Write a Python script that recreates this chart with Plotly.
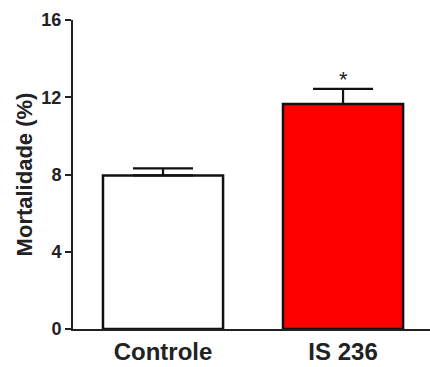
import plotly.graph_objects as go

categories = ["Controle", "IS 236"]
values = [7.95, 11.65]
errors_up = [0.37, 0.78]
bar_colors = ["#ffffff", "#ff0000"]
y_ticks = [0, 4, 8, 12, 16]
significance = ["", "*"]

fig = go.Figure()
fig.add_trace(go.Bar(
    x=categories,
    y=values,
    width=0.667,
    marker=dict(color=bar_colors, line=dict(color="#111111", width=2.5)),
    error_y=dict(type="data", array=errors_up, arrayminus=[0] * len(values),
                 symmetric=False, color="#111111", thickness=2.2, width=30),
    showlegend=False,
))

for cat, v, e, s in zip(categories, values, errors_up, significance):
    if s:
        fig.add_annotation(x=cat, y=v + e + 0.5, text=s, showarrow=False,
                           yanchor="middle",
                           font=dict(family="Liberation Sans, Arial", size=22, color="#222222"))

fig.update_layout(
    width=430, height=367,
    margin=dict(l=73, r=0, t=20, b=38),
    paper_bgcolor="white", plot_bgcolor="white",
    font=dict(family="Liberation Sans, Arial", color="#222222"),
)
fig.update_xaxes(
    range=[-0.5, 1.483],
    automargin=False,
    showline=True, linecolor="#222222", linewidth=2,
    ticks="", showgrid=False, zeroline=False,
    tickfont=dict(size=24, family="Liberation Sans, Arial", color="#222222"),
    ticklabelstandoff=0,
    tickprefix="<b>", ticksuffix="</b>",
)
fig.update_yaxes(
    range=[0, 16],
    automargin=False,
    tickvals=y_ticks,
    ticktext=[f"<b>{t}</b>" for t in y_ticks],
    showline=True, linecolor="#222222", linewidth=2,
    ticks="outside", ticklen=6, tickwidth=2, tickcolor="#222222",
    showgrid=False, zeroline=False,
    tickfont=dict(size=18, family="Liberation Sans, Arial", color="#222222"),
    title=dict(text="<b>Mortalidade (%)</b>", standoff=3,
               font=dict(size=22, family="Liberation Sans, Arial", color="#222222")),
)

fig.write_html("out.html",
               config={"displayModeBar": False},
               post_script="document.body.style.margin='0';document.body.style.padding='0';")
